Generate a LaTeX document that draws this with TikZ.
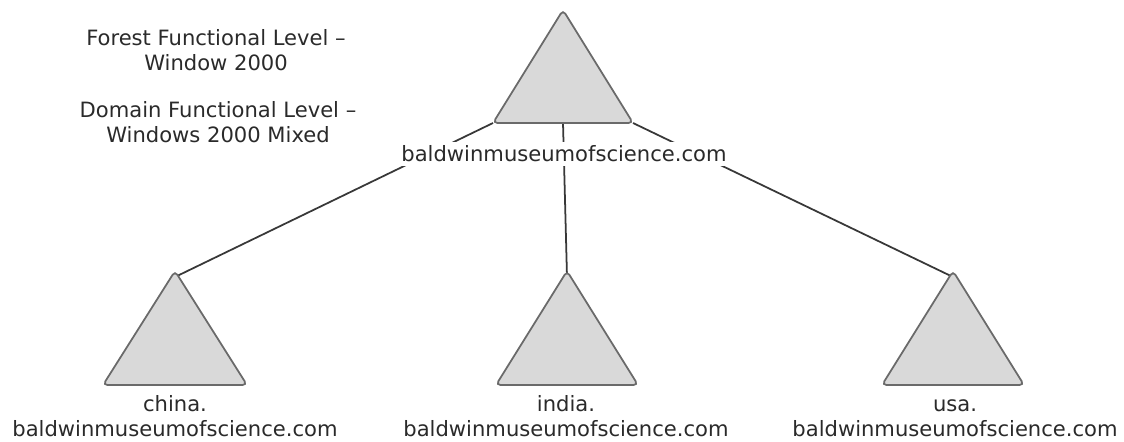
\documentclass[tikz,border=0pt]{standalone}
\usepackage{fontspec}
\setmainfont{DejaVu Sans}
\definecolor{trifill}{HTML}{D9D9D9}
\definecolor{triedge}{HTML}{6A6A6A}
\definecolor{linkcol}{HTML}{383838}
\definecolor{txtcol}{HTML}{2A2A2A}

\begin{document}
\begin{tikzpicture}[x=0.02cm,y=-0.02cm,
    tri/.style={draw=triedge,fill=trifill,line width=1pt,rounded corners=2.5pt},
    link/.style={draw=linkcol,line width=1pt},
    lbl/.style={text=txtcol,font=\fontsize{12}{14.2}\selectfont,align=center,inner sep=2pt}]
    \useasboundingbox (0,0) rectangle (1124,442);
    % Triangle corners
    \coordinate (root) at (563,10);
    \coordinate (rootL) at (493,123);
    \coordinate (rootB) at (563,123);
    \coordinate (rootR) at (633,123);
    \coordinate (china) at (175,271);
    \coordinate (india) at (567,271);
    \coordinate (usa) at (953,271);
    % Link ends, just under the rounded tips
    \coordinate (chinaT) at (175,277);
    \coordinate (indiaT) at (567,277);
    \coordinate (usaT) at (953,277);

    % Links
    \draw[link] (rootL) -- (chinaT);
    \draw[link] (rootB) -- (indiaT);
    \draw[link] (rootR) -- (usaT);

    % Domains
    \draw[tri] (root) -- (rootR) -- (rootL) -- cycle;
    \draw[tri] (china) -- ++(72,114) -- ++(-144,0) -- cycle;
    \draw[tri] (india) -- ++(71,114) -- ++(-142,0) -- cycle;
    \draw[tri] (usa) -- ++(71,114) -- ++(-142,0) -- cycle;

    \node[lbl,fill=white] (rootlbl) at (564,154) {baldwinmuseumofscience.com};
    \node[lbl] (chinalbl) at (175,415) {\strut china.\\baldwinmuseumofscience.com};
    \node[lbl] (indialbl) at (566,415) {\strut india.\\baldwinmuseumofscience.com};
    \node[lbl] (usalbl) at (955,415) {\strut usa.\\baldwinmuseumofscience.com};

    % Functional levels
    \node[lbl] (forest) at (216,50) {Forest Functional Level –\\Window 2000};
    \node[lbl] (domain) at (218,122) {Domain Functional Level –\\Windows 2000 Mixed};
\end{tikzpicture}
\end{document}
